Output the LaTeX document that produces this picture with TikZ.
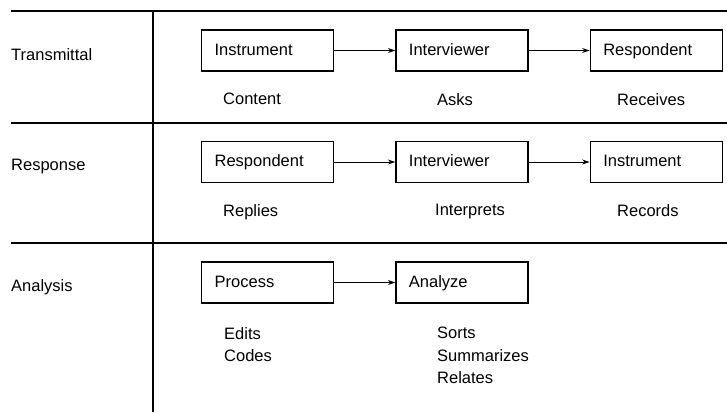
\documentclass[tikz,border=0pt]{standalone}
\usepackage{fontspec}
\setmainfont{Liberation Sans}
\usetikzlibrary{positioning,arrows.meta}

\begin{document}
\begin{tikzpicture}[
  >={Stealth[length=7.5pt,width=5pt]},
  x=1pt, y=-1pt,
  node distance=61pt,
  every node/.style={font=\fontsize{16.5}{22.5}\selectfont},
  stage/.style={rectangle, draw=black, line width=1.3pt, minimum height=41pt, text width=106pt, inner xsep=13pt, text height=12pt, text depth=3pt, align=left},
  act/.style={anchor=north west, inner sep=0pt, align=left},
  phase/.style={anchor=west, inner sep=0pt},
  rule/.style={line width=1.3pt}
]
\useasboundingbox (0,0) rectangle (727,413);

% table rules
\draw[rule] (11,11) -- (727,11);
\draw[rule] (11,123) -- (727,123);
\draw[rule] (11,243) -- (727,243);
\draw[rule] (153,11) -- (153,412);

% phases
\node[phase] (trans) at (11,55) {Transmittal};
\node[phase] (resp) at (11,167) {Response};
\node[phase] (anal) at (11,287) {Analysis};

% transmittal row
\node[stage, anchor=west] (ins1) at (201,50.5) {Instrument};
\node[stage, right=of ins1] (int1) {Interviewer};
\node[stage, right=of int1] (res1) {Respondent};
\node[act] (cont) at (223,93) {Content};
\node[act] (asks) at (437,93) {Asks};
\node[act] (recv) at (617,93) {Receives};

% response row
\node[stage, anchor=west] (res2) at (201,162) {Respondent};
\node[stage, right=of res2] (int2) {Interviewer};
\node[stage, right=of int2] (ins2) {Instrument};
\node[act] (repl) at (223,204) {Replies};
\node[act] (intp) at (435,204) {Interprets};
\node[act] (rec) at (617,204) {Records};

% analysis row
\node[stage, anchor=west] (proc) at (201,282.5) {Process};
\node[stage, right=of proc] (anz) {Analyze};
\node[act] (edit) at (224,327) {Edits\\Codes};
\node[act] (sort) at (437,327) {Sorts\\Summarizes\\Relates};

\draw[->, line width=1pt] (ins1) -- (int1);
\draw[->, line width=1pt] (int1) -- (res1);
\draw[->, line width=1pt] (res2) -- (int2);
\draw[->, line width=1pt] (int2) -- (ins2);
\draw[->, line width=1pt] (proc) -- (anz);
\end{tikzpicture}
\end{document}
